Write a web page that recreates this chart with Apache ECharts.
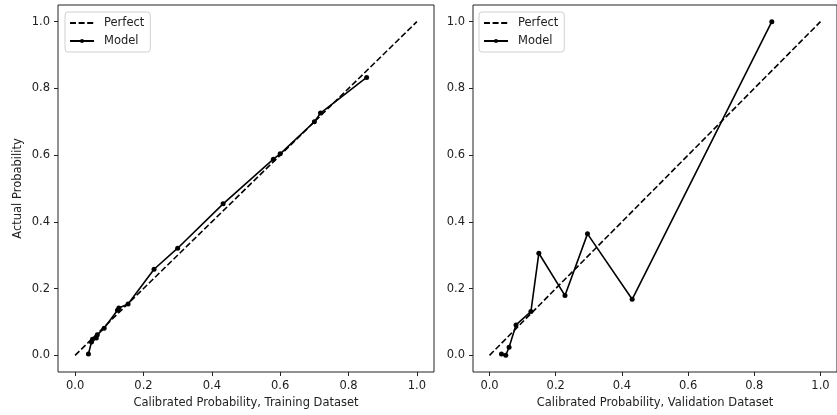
<!DOCTYPE html>
<html lang="en">
  <head>
    <meta charset="UTF-8">
    <title>Calibration curves</title>
    <style>
      html, body { margin: 0; padding: 0; background: #fff; }
      #chart { width: 837px; height: 415px; }
    </style>
  </head>
  <body>
    <div id="chart"></div>
    <script src="https://cdn.jsdelivr.net/npm/echarts@6/dist/echarts.min.js"></script>
    <script type="text/javascript">
      // values
      var perfectX = [0, 1];
      var perfectY = [0, 1];

      var trainX = [0.039, 0.048, 0.051, 0.062, 0.065, 0.085, 0.124, 0.128, 0.155, 0.231, 0.300, 0.433, 0.580, 0.600, 0.700, 0.718, 0.853];
      var trainY = [0.004, 0.040, 0.048, 0.052, 0.062, 0.081, 0.135, 0.142, 0.154, 0.258, 0.321, 0.454, 0.588, 0.604, 0.700, 0.726, 0.833];

      var validX = [0.036, 0.049, 0.059, 0.080, 0.125, 0.149, 0.228, 0.296, 0.431, 0.853];
      var validY = [0.004, 0.000, 0.024, 0.091, 0.131, 0.306, 0.179, 0.364, 0.168, 1.000];

      var tickValues = [0, 0.2, 0.4, 0.6, 0.8, 1.0];

      function pairs(xs, ys) {
        return xs.map(function(x, i) { return [x, ys[i]]; });
      }

      var font = 'DejaVu Sans';
      var fontSize = 11.5;
      var textColor = '#222';

      function axis(idx, name, extra) {
        var a = {
          type: 'value',
          gridIndex: idx,
          min: -0.05,
          max: 1.05,
          name: name,
          nameLocation: 'middle',
          nameTextStyle: { fontFamily: font, fontSize: fontSize, color: textColor },
          splitLine: { show: false },
          axisLine: { show: false, onZero: false },
          axisTick: {
            show: true,
            length: 4,
            customValues: tickValues,
            lineStyle: { color: '#222', width: 1 }
          },
          axisLabel: {
            customValues: tickValues,
            fontFamily: font,
            fontSize: fontSize,
            color: textColor,
            formatter: function(v) { return v.toFixed(1); }
          }
        };
        for (var k in extra) a[k] = extra[k];
        return a;
      }

      function legend(idx, left) {
        return {
          show: true,
          left: left,
          top: 12,
          orient: 'vertical',
          selectedMode: false,
          data: [
            { name: 'Perfect', itemStyle: { opacity: 0 } },
            { name: 'Model' }
          ],
          itemWidth: 24,
          itemHeight: 5,
          itemGap: 6,
          padding: [5, 6, 5, 4],
          backgroundColor: 'rgba(255,255,255,0.8)',
          borderColor: '#d0d0d0',
          borderWidth: 1,
          borderRadius: 3,
          textStyle: { fontFamily: font, fontSize: fontSize, color: textColor, padding: [0, 0, 0, 5] }
        };
      }

      function perfect(idx) {
        return {
          name: 'Perfect',
          type: 'line',
          xAxisIndex: idx,
          yAxisIndex: idx,
          symbol: 'none',
          silent: true,
          animation: false,
          lineStyle: { color: '#000', width: 1.6, type: [6, 2.6] },
          itemStyle: { color: '#000' },
          data: pairs(perfectX, perfectY)
        };
      }

      function model(idx, xs, ys) {
        return {
          name: 'Model',
          type: 'line',
          xAxisIndex: idx,
          yAxisIndex: idx,
          symbol: 'circle',
          symbolSize: 5,
          showAllSymbol: true,
          silent: true,
          animation: false,
          lineStyle: { color: '#000', width: 1.6 },
          itemStyle: { color: '#000' },
          data: pairs(xs, ys)
        };
      }

      var myChart = echarts.init(document.getElementById('chart'), null, { renderer: 'canvas' });

      var option = {
        backgroundColor: '#fff',
        animation: false,
        grid: [
          { left: 58, right: 403, top: 5, bottom: 43, show: true, borderColor: '#222', borderWidth: 1, backgroundColor: 'transparent' },
          { left: 473, right: -9, top: 5, bottom: 43, show: true, borderColor: '#222', borderWidth: 1, backgroundColor: 'transparent' }
        ],
        legend: [legend(0, 65), legend(1, 479)],
        xAxis: [
          axis(0, 'Calibrated Probability, Training Dataset', { nameGap: 25 }),
          axis(1, 'Calibrated Probability, Validation Dataset', { nameGap: 25 })
        ],
        yAxis: [
          axis(0, 'Actual Probability', { nameGap: 34, nameRotate: 90 }),
          axis(1, '', {})
        ],
        series: [
          perfect(0),
          model(0, trainX, trainY),
          perfect(1),
          model(1, validX, validY)
        ]
      };

      myChart.setOption(option);
    </script>
  </body>
</html>
